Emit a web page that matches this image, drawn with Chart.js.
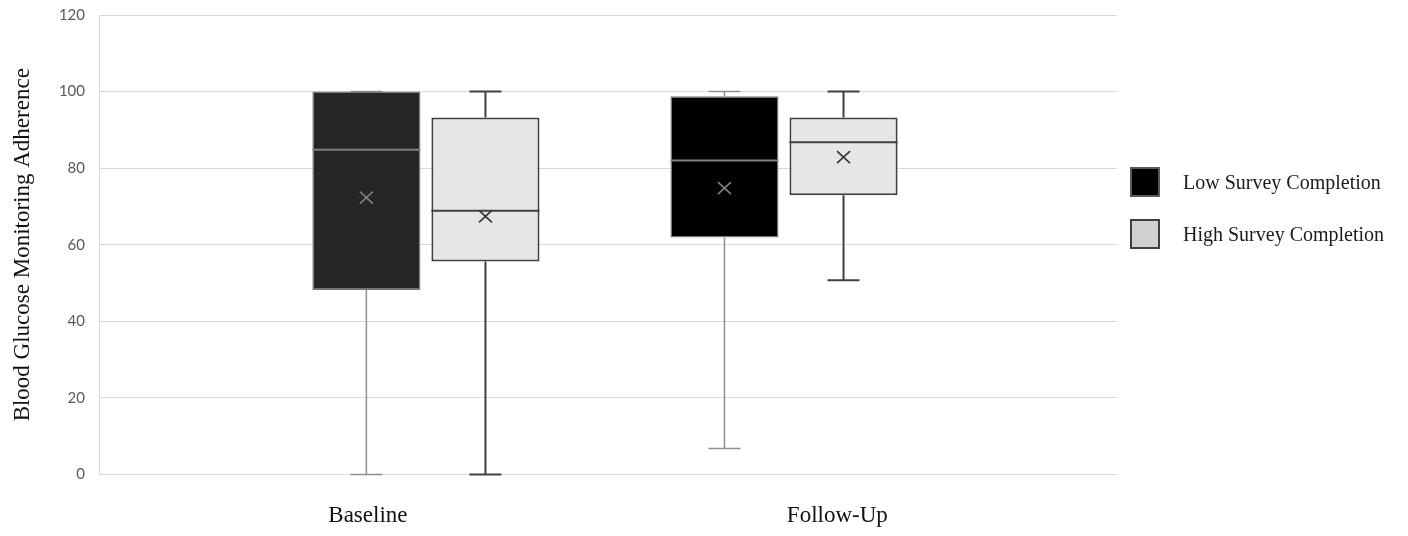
<!DOCTYPE html>
<html>
<head>
<meta charset="utf-8">
<script src="https://cdn.jsdelivr.net/npm/chart.js@4.4.1/dist/chart.umd.min.js"></script>
<style>
html,body{margin:0;padding:0;background:#fff;}
#wrap{position:relative;width:1408px;height:536px;overflow:hidden;}
#c{position:absolute;left:0;top:0;}
.leg{position:absolute;left:1130px;display:flex;align-items:center;font-family:"Liberation Serif","Times New Roman",serif;font-size:20px;color:#1a1a1a;white-space:nowrap;line-height:30px;}
.leg .sw{box-sizing:border-box;width:30px;height:30px;border:2px solid;margin-right:23px;}
</style>
</head>
<body>
<div id="wrap">
<canvas id="c" width="1408" height="536"></canvas>
</div>
<script>
// ---- data ----
const categories = ['Baseline', 'Follow-Up'];
const seriesNames = ['Low Survey Completion', 'High Survey Completion'];
const yTickValues = [0, 20, 40, 60, 80, 100, 120];
const yTitle = 'Blood Glucose Monitoring Adherence';

const lowMin    = [0, 6.8];
const lowQ1     = [48.2, 61.9];
const lowMedian = [84.8, 82.0];
const lowQ3     = [100, 98.8];
const lowMax    = [100, 100];
const lowMean   = [72.3, 74.8];

const highMin    = [0, 50.7];
const highQ1     = [55.6, 72.9];
const highMedian = [68.9, 86.8];
const highQ3     = [93.2, 93.2];
const highMax    = [100, 100];
const highMean   = [67.4, 82.9];

// ---- styles ----
const series = [
  { name: seriesNames[0], min: lowMin, q1: lowQ1, median: lowMedian, q3: lowQ3, max: lowMax, mean: lowMean,
    fill: ['#262626', '#000000'], border: '#7a7a7a', borderWidth: 1.5,
    whisker: '#8f8f8f', whiskerWidth: 1.5, medianColor: '#7f7f7f', meanColor: '#808080',
    legendFill: '#000000', legendBorder: '#5a5a5a' },
  { name: seriesNames[1], min: highMin, q1: highQ1, median: highMedian, q3: highQ3, max: highMax, mean: highMean,
    fill: ['#e6e6e6', '#e6e6e6'], border: '#404040', borderWidth: 2,
    whisker: '#404040', whiskerWidth: 2, medianColor: '#404040', meanColor: '#333333',
    legendFill: '#d0d0d0', legendBorder: '#404040' }
];

const X_MIN = -0.913, X_MAX = 1.93;

// legend (HTML text)
const wrap = document.getElementById('wrap');
series.forEach((s, k) => {
  const d = document.createElement('div');
  d.className = 'leg';
  d.style.top = (167 + k * 52) + 'px';
  const sw = document.createElement('span');
  sw.className = 'sw';
  sw.style.background = s.legendFill;
  sw.style.borderColor = s.legendBorder;
  d.appendChild(sw);
  d.appendChild(document.createTextNode(s.name));
  wrap.appendChild(d);
});

const boxParts = {
  id: 'boxParts',
  beforeDatasetsDraw(chart) {
    const y = chart.scales.y, ctx = chart.ctx;
    series.forEach((s, di) => {
      chart.getDatasetMeta(di).data.forEach((bar, i) => {
        const cx = bar.x;
        const pMin = y.getPixelForValue(s.min[i]);
        const pQ1 = y.getPixelForValue(s.q1[i]);
        const pQ3 = y.getPixelForValue(s.q3[i]);
        const pMax = y.getPixelForValue(s.max[i]);
        ctx.save();
        ctx.strokeStyle = s.whisker;
        ctx.lineWidth = s.whiskerWidth;
        ctx.beginPath();
        ctx.moveTo(cx, pQ3); ctx.lineTo(cx, pMax);
        ctx.moveTo(cx - 16, pMax); ctx.lineTo(cx + 16, pMax);
        ctx.moveTo(cx, pQ1); ctx.lineTo(cx, pMin);
        ctx.moveTo(cx - 16, pMin); ctx.lineTo(cx + 16, pMin);
        ctx.stroke();
        ctx.restore();
      });
    });
  },
  afterDatasetsDraw(chart) {
    const y = chart.scales.y, ctx = chart.ctx;
    series.forEach((s, di) => {
      chart.getDatasetMeta(di).data.forEach((bar, i) => {
        const cx = bar.x, half = bar.width / 2;
        const pMed = y.getPixelForValue(s.median[i]);
        const pMean = y.getPixelForValue(s.mean[i]);
        ctx.save();
        ctx.strokeStyle = s.medianColor;
        ctx.lineWidth = 2;
        ctx.beginPath();
        ctx.moveTo(cx - half, pMed); ctx.lineTo(cx + half, pMed);
        ctx.stroke();
        ctx.strokeStyle = s.meanColor;
        ctx.lineWidth = 1.6;
        ctx.beginPath();
        ctx.moveTo(cx - 6.5, pMean - 6); ctx.lineTo(cx + 6.5, pMean + 6);
        ctx.moveTo(cx - 6.5, pMean + 6); ctx.lineTo(cx + 6.5, pMean - 6);
        ctx.stroke();
        ctx.restore();
      });
    });
  }
};

new Chart(document.getElementById('c'), {
  type: 'bar',
  data: {
    datasets: series.map(s => ({
      label: s.name,
      data: categories.map((c, i) => ({ x: i, y: [s.q1[i], s.q3[i]] })),
      backgroundColor: s.fill,
      borderColor: s.border,
      borderWidth: s.borderWidth,
      borderSkipped: false,
      categoryPercentage: 0.665,
      barPercentage: 0.908
    }))
  },
  options: {
    responsive: false,
    animation: false,
    events: [],
    layout: { padding: { top: 15, right: 291, bottom: 0, left: 0 } },
    plugins: { legend: { display: false }, tooltip: { enabled: false } },
    scales: {
      x: {
        type: 'linear',
        offset: false,
        min: X_MIN,
        max: X_MAX,
        bounds: 'data',
        grid: { display: false, drawTicks: false, offset: false },
        border: { display: false },
        afterDataLimits: (sc) => { sc.min = X_MIN; sc.max = X_MAX; },
        afterBuildTicks: (sc) => { sc.ticks = [{ value: -0.162 }, { value: 1.149 }]; },
        afterFit: (sc) => { sc.height = 61.5; sc.paddingLeft = 0; sc.paddingRight = 0; },
        ticks: {
          autoSkip: false, maxRotation: 0, padding: 28,
          color: '#111111',
          font: { family: '"Liberation Serif", "Times New Roman", serif', size: 23 },
          callback: (v, i) => categories[i]
        }
      },
      y: {
        min: 0, max: 120,
        afterBuildTicks: (sc) => { sc.ticks = yTickValues.map(v => ({ value: v })); },
        afterFit: (sc) => { sc.width = 99; sc.paddingTop = 0; sc.paddingBottom = 0; },
        grid: { color: '#d9d9d9', lineWidth: 1, drawTicks: false },
        border: { display: true, color: '#d9d9d9', width: 1 },
        ticks: {
          padding: 14, color: '#595959',
          font: { family: 'Lato, "Open Sans", sans-serif', size: 15 }
        },
        title: {
          display: true, text: yTitle, color: '#111111',
          font: { family: '"Liberation Serif", "Times New Roman", serif', size: 23 },
          padding: { top: 9, bottom: 0 }
        }
      }
    }
  },
  plugins: [boxParts]
});
</script>
</body>
</html>
